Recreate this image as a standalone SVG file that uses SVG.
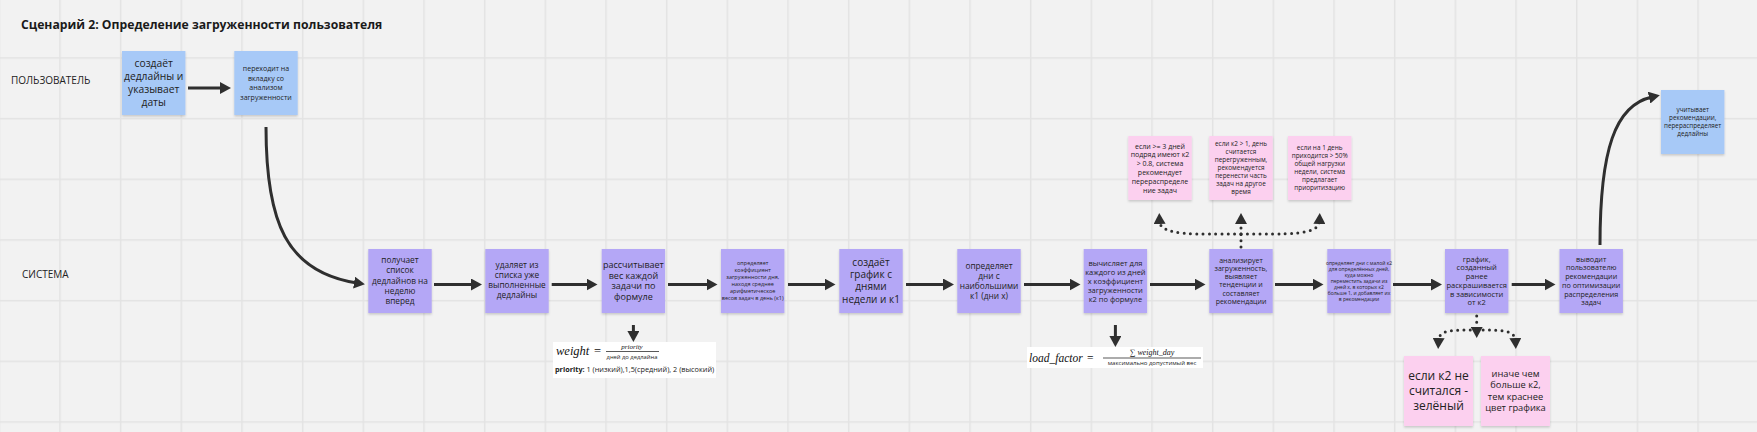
<svg xmlns="http://www.w3.org/2000/svg" width="1757" height="432" viewBox="0 0 1757 432">
<defs>
<style>
.n{font-family:"Open Sans","Noto Sans","DejaVu Sans",sans-serif;fill:#222;text-anchor:middle}
.lane{font-family:"Open Sans","Noto Sans",sans-serif;fill:#222;font-size:10px}
.title{font-family:"Open Sans","Noto Sans",sans-serif;font-weight:bold;fill:#1a1a1a;font-size:12.2px}
.blue{fill:#a7c9f7;filter:url(#sh)}
.violet{fill:#b4a7f6;filter:url(#sh)}
.pink{fill:#fcd0ef;filter:url(#sh)}
.ar{fill:none;stroke:#2f2f2f;stroke-width:3;marker-end:url(#ah)}
.dot{fill:none;stroke:#2f2f2f;stroke-width:3;stroke-dasharray:0 6.3;stroke-linecap:round;marker-end:url(#ah)}
.m{font-family:"Liberation Serif","DejaVu Serif",serif;font-style:italic;fill:#111}
.mr{font-family:"Liberation Serif","DejaVu Serif",serif;fill:#111}
.fs{font-family:"Open Sans","Noto Sans",sans-serif;fill:#222}
</style>
<pattern id="grid" width="60.67" height="60.67" patternUnits="userSpaceOnUse" x="-1.45" y="-3.45">
<path d="M0.75,0 V60.67 M0,0.75 H60.67" stroke="#e3e3e3" stroke-width="1.5" fill="none"/>
</pattern>
<marker id="ah" viewBox="0 0 11 12" markerWidth="11" markerHeight="12" refX="3" refY="6" orient="auto" markerUnits="userSpaceOnUse">
<path d="M0,0 L11,6 L0,12 Z" fill="#2f2f2f"/>
</marker>
<filter id="sh" x="-10%" y="-10%" width="120%" height="125%">
<feDropShadow dx="0" dy="1.5" stdDeviation="1" flood-color="#000" flood-opacity="0.18"/>
</filter>
</defs>
<rect width="1757" height="432" fill="#f2f2f2"/>
<rect width="1757" height="432" fill="url(#grid)"/>

<text class="title" x="21" y="29">Сценарий 2: Определение загруженности пользователя</text>
<text class="lane" x="11" y="83.5">ПОЛЬЗОВАТЕЛЬ</text>
<text class="lane" x="22" y="278">СИСТЕМА</text>

<g id="connectors">
<path class="ar" d="M188,88 H223"/>
<path class="ar" d="M266,127 C266,222 286,272 357,283"/>
<path class="ar" d="M434,284.5 H474"/>
<path class="ar" d="M551.7,284.5 H589.5"/>
<path class="ar" d="M668,284.5 H709.5"/>
<path class="ar" d="M788,284.5 H827.5"/>
<path class="ar" d="M906,284.5 H946"/>
<path class="ar" d="M1024,284.5 H1072.5"/>
<path class="ar" d="M1150,284.5 H1197.5"/>
<path class="ar" d="M1275,284.5 H1315.5"/>
<path class="ar" d="M1393,284.5 H1434"/>
<path class="ar" d="M1511.7,284.5 H1547.5"/>
<path class="ar" d="M633.4,325 V334"/>
<path class="ar" d="M1115.4,325 V339"/>
<path class="ar" d="M1600,245 C1600,150 1615,105 1652,97"/>
<path class="dot" d="M1241,247 V221"/>
<path class="dot" d="M1241,234 C1195,234 1160,236 1159.5,221"/>
<path class="dot" d="M1241,234 C1285,234 1319,236 1319.5,221"/>
<path class="dot" d="M1476.7,316 V330"/>
<path class="dot" d="M1476.7,330 C1450,330 1439,330 1438.5,341"/>
<path class="dot" d="M1476.7,330 C1503,330 1515,330 1515.5,341"/>
</g>

<g id="u1"><rect class="blue" x="122" y="51" width="63.4" height="64"/>
<text class="n" font-size="10.3" x="153.7" y="67"><tspan x="153.7">создаёт</tspan><tspan x="153.7" dy="13">дедлайны и</tspan><tspan x="153.7" dy="13">указывает</tspan><tspan x="153.7" dy="13">даты</tspan></text></g>

<g id="u2"><rect class="blue" x="234.3" y="51" width="63.4" height="64"/>
<text class="n" font-size="7" x="266" y="71"><tspan x="266">переходит на</tspan><tspan x="266" dy="9.5">вкладку со</tspan><tspan x="266" dy="9.5">анализом</tspan><tspan x="266" dy="9.5">загруженности</tspan></text></g>

<g id="u3"><rect class="blue" x="1661" y="90" width="63.4" height="64"/>
<text class="n" font-size="6.3" x="1692.7" y="112"><tspan x="1692.7">учитывает</tspan><tspan x="1692.7" dy="8">рекомендации,</tspan><tspan x="1692.7" dy="8">перераспределяет</tspan><tspan x="1692.7" dy="8">дедлайны</tspan></text></g>

<g id="s1"><rect class="violet" x="368.3" y="249" width="63.4" height="64"/>
<text class="n" font-size="8.3" x="400" y="263.1"><tspan x="400">получает</tspan><tspan x="400" dy="10.3">список</tspan><tspan x="400" dy="10.3">дедлайнов на</tspan><tspan x="400" dy="10.3">неделю</tspan><tspan x="400" dy="10.3">вперед</tspan></text></g>

<g id="s2"><rect class="violet" x="485.3" y="249" width="63.4" height="64"/>
<text class="n" font-size="8.3" x="517" y="267.7"><tspan x="517">удаляет из</tspan><tspan x="517" dy="10">списка уже</tspan><tspan x="517" dy="10">выполненные</tspan><tspan x="517" dy="10">дедлайны</tspan></text></g>

<g id="s3"><rect class="violet" x="601.7" y="249" width="63.4" height="64"/>
<text class="n" font-size="9" x="633.4" y="268"><tspan x="633.4">рассчитывает</tspan><tspan x="633.4" dy="10.6">вес каждой</tspan><tspan x="633.4" dy="10.6">задачи по</tspan><tspan x="633.4" dy="10.6">формуле</tspan></text></g>

<g id="s4"><rect class="violet" x="721" y="249" width="63.4" height="64"/>
<text class="n" font-size="5.5" x="752.7" y="265.3"><tspan x="752.7">определяет</tspan><tspan x="752.7" dy="7">коэффициент</tspan><tspan x="752.7" dy="7">загруженности дня,</tspan><tspan x="752.7" dy="7">находя среднее</tspan><tspan x="752.7" dy="7">арифметическое</tspan><tspan x="752.7" dy="7">весов задач в день (к1)</tspan></text></g>

<g id="s5"><rect class="violet" x="839.3" y="249" width="63.4" height="64"/>
<text class="n" font-size="10" x="871" y="265.8"><tspan x="871">создаёт</tspan><tspan x="871" dy="12.3">график с</tspan><tspan x="871" dy="12.3">днями</tspan><tspan x="871" dy="12.3">недели и к1</tspan></text></g>

<g id="s6"><rect class="violet" x="957.3" y="249" width="63.4" height="64"/>
<text class="n" font-size="8.3" x="989" y="268.7"><tspan x="989">определяет</tspan><tspan x="989" dy="10">дни с</tspan><tspan x="989" dy="10">наибольшими</tspan><tspan x="989" dy="10">к1 (дни x)</tspan></text></g>

<g id="s7"><rect class="violet" x="1083.7" y="249" width="63.4" height="64"/>
<text class="n" font-size="7.5" x="1115.4" y="265.5"><tspan x="1115.4">вычисляет для</tspan><tspan x="1115.4" dy="9">каждого из дней</tspan><tspan x="1115.4" dy="9">x коэффициент</tspan><tspan x="1115.4" dy="9">загруженности</tspan><tspan x="1115.4" dy="9">к2 по формуле</tspan></text></g>

<g id="s8"><rect class="violet" x="1209.3" y="249" width="63.4" height="64"/>
<text class="n" font-size="7" x="1241" y="262.8"><tspan x="1241">анализирует</tspan><tspan x="1241" dy="8.2">загруженность,</tspan><tspan x="1241" dy="8.2">выявляет</tspan><tspan x="1241" dy="8.2">тенденции и</tspan><tspan x="1241" dy="8.2">составляет</tspan><tspan x="1241" dy="8.2">рекомендации</tspan></text></g>

<g id="s9"><rect class="violet" x="1327.3" y="249" width="63.4" height="64"/>
<text class="n" font-size="5" x="1359" y="264.7"><tspan x="1359">определяет дни с малой к2</tspan><tspan x="1359" dy="6">для определённых дней,</tspan><tspan x="1359" dy="6">куда можно</tspan><tspan x="1359" dy="6">переместить задачи из</tspan><tspan x="1359" dy="6">дней x, в которых к2</tspan><tspan x="1359" dy="6">больше 1, и добавляет их</tspan><tspan x="1359" dy="6">в рекомендации</tspan></text></g>

<g id="s10"><rect class="violet" x="1445" y="249" width="63.4" height="64"/>
<text class="n" font-size="7.5" x="1476.7" y="261.7"><tspan x="1476.7">график,</tspan><tspan x="1476.7" dy="8.7">созданный</tspan><tspan x="1476.7" dy="8.7">ранее</tspan><tspan x="1476.7" dy="8.7">раскрашивается</tspan><tspan x="1476.7" dy="8.7">в зависимости</tspan><tspan x="1476.7" dy="8.7">от к2</tspan></text></g>

<g id="s11"><rect class="violet" x="1559.5" y="249" width="63.4" height="64"/>
<text class="n" font-size="7.2" x="1591.2" y="261.7"><tspan x="1591.2">выводит</tspan><tspan x="1591.2" dy="8.7">пользователю</tspan><tspan x="1591.2" dy="8.7">рекомендации</tspan><tspan x="1591.2" dy="8.7">по оптимизации</tspan><tspan x="1591.2" dy="8.7">распределения</tspan><tspan x="1591.2" dy="8.7">задач</tspan></text></g>

<g id="p1"><rect class="pink" x="1128.3" y="136" width="63.4" height="64"/>
<text class="n" font-size="7" x="1160" y="148.5"><tspan x="1160">если &gt;= 3 дней</tspan><tspan x="1160" dy="8.8">подряд имеют к2</tspan><tspan x="1160" dy="8.8">&gt; 0.8, система</tspan><tspan x="1160" dy="8.8">рекомендует</tspan><tspan x="1160" dy="8.8">перераспределе</tspan><tspan x="1160" dy="8.8">ние задач</tspan></text></g>

<g id="p2"><rect class="pink" x="1209.3" y="136" width="63.4" height="64"/>
<text class="n" font-size="6.4" x="1241" y="146"><tspan x="1241">если к2 &gt; 1, день</tspan><tspan x="1241" dy="8">считается</tspan><tspan x="1241" dy="8">перегруженным,</tspan><tspan x="1241" dy="8">рекомендуется</tspan><tspan x="1241" dy="8">перенести часть</tspan><tspan x="1241" dy="8">задач на другое</tspan><tspan x="1241" dy="8">время</tspan></text></g>

<g id="p3"><rect class="pink" x="1288" y="136" width="63.4" height="64"/>
<text class="n" font-size="6.4" x="1319.7" y="150"><tspan x="1319.7">если на 1 день</tspan><tspan x="1319.7" dy="8">приходится &gt; 50%</tspan><tspan x="1319.7" dy="8">общей нагрузки</tspan><tspan x="1319.7" dy="8">недели, система</tspan><tspan x="1319.7" dy="8">предлагает</tspan><tspan x="1319.7" dy="8">приоритизацию</tspan></text></g>

<g id="pa"><rect class="pink" x="1404" y="356" width="69" height="70"/>
<text class="n" font-size="12" x="1438.5" y="380"><tspan x="1438.5">если к2 не</tspan><tspan x="1438.5" dy="15">считался -</tspan><tspan x="1438.5" dy="15">зелёный</tspan></text></g>

<g id="pb"><rect class="pink" x="1481" y="356" width="69" height="70"/>
<text class="n" font-size="9.3" x="1515.5" y="376.8"><tspan x="1515.5">иначе чем</tspan><tspan x="1515.5" dy="11.5">больше к2,</tspan><tspan x="1515.5" dy="11.5">тем краснее</tspan><tspan x="1515.5" dy="11.5">цвет графика</tspan></text></g>

<g id="formula1">
<rect x="553" y="342" width="163" height="36" fill="#ffffff"/>
<text class="m" font-size="12.5" x="556" y="355">weight</text>
<text class="mr" font-size="12.5" x="594" y="355">=</text>
<text class="m" font-size="7" x="632" y="349" text-anchor="middle">priority</text>
<line x1="606" y1="351.5" x2="659" y2="351.5" stroke="#111" stroke-width="0.7"/>
<text class="fs" font-size="5.8" x="632" y="358.5" text-anchor="middle">дней до дедлайна</text>
<text class="fs" font-size="7.3" x="555" y="372"><tspan font-weight="bold">priority:</tspan> 1 (низкий),1,5(средний), 2 (высокий)</text>
</g>

<g id="formula2">
<rect x="1027" y="347" width="176" height="21" fill="#ffffff"/>
<text class="m" font-size="11.5" x="1029" y="361.5">load_factor</text>
<text class="mr" font-size="11.5" x="1087" y="361.5">=</text>
<text class="m" font-size="8" x="1152" y="355" text-anchor="middle">∑ weight_day</text>
<line x1="1103" y1="358" x2="1201" y2="358" stroke="#111" stroke-width="0.7"/>
<text class="fs" font-size="6" x="1152" y="365" text-anchor="middle">максимально допустимый вес</text>
</g>
</svg>
